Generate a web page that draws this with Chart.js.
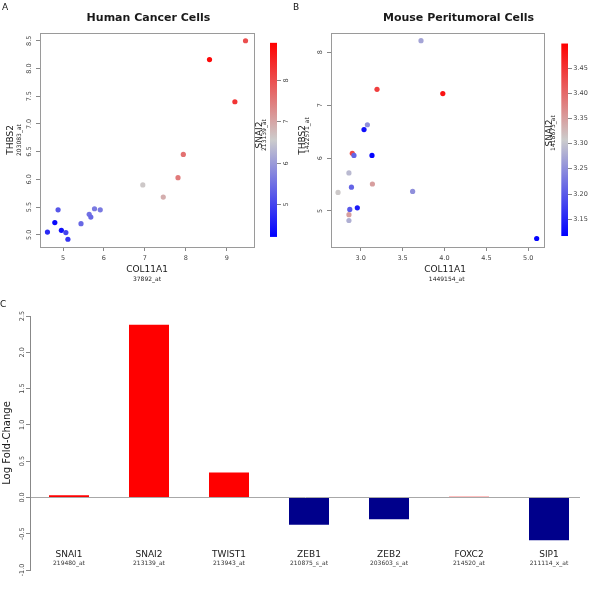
<!DOCTYPE html>
<html>
<head>
<meta charset="utf-8">
<title>COL11A1 / THBS2 / SNAI2</title>
<script src="https://cdn.jsdelivr.net/npm/chart.js@4.4.1/dist/chart.umd.min.js"></script>
<style>
  body { margin: 0; background: #fff; }
  #page { position: relative; width: 600px; height: 593px; overflow: hidden; font-family: "DejaVu Sans", sans-serif; }
  #page canvas { position: absolute; }
  .panel { position: absolute; font-size: 9px; color: #111; }
</style>
</head>
<body>
<div id="page">
  <canvas id="chartA" width="300" height="295" style="left:0;top:0"></canvas>
  <canvas id="chartB" width="310" height="295" style="left:290px;top:0"></canvas>
  <canvas id="chartC" width="600" height="298" style="left:0;top:295px"></canvas>
  <div class="panel" style="left:2px;top:2px">A</div>
  <div class="panel" style="left:293px;top:2px">B</div>
  <div class="panel" style="left:0;top:299px">C</div>
</div>
<script>
// Panel A - human cancer cells: COL11A1 vs THBS2, coloured by SNAI2
const humanCol11a1 = [9.46, 8.58, 9.20, 7.94, 7.81, 6.95, 7.45, 4.62, 4.80, 4.88, 4.96, 5.07, 5.12, 5.44, 5.64, 5.68, 5.77, 5.91];
const humanThbs2   = [8.50, 8.16, 7.40, 6.45, 6.03, 5.90, 5.68, 5.05, 5.22, 5.45, 5.08, 5.04, 4.92, 5.20, 5.37, 5.32, 5.47, 5.45];
const humanSnai2   = [8.0, 8.8, 8.3, 7.6, 7.5, 6.6, 6.9, 4.7, 4.3, 5.2, 4.4, 5.0, 4.8, 5.4, 5.5, 5.4, 5.6, 5.6];
const humanXTicks = [5, 6, 7, 8, 9];
const humanYTicks = [5.0, 5.5, 6.0, 6.5, 7.0, 7.5, 8.0, 8.5];
const humanSnai2Ticks = [5, 6, 7, 8];
const humanSnai2Range = [4.2, 8.9];

// Panel B - mouse peritumoral cells
const mouseCol11a1 = [3.72, 3.195, 3.98, 3.08, 3.04, 2.90, 2.92, 3.135, 2.86, 2.89, 3.14, 2.73, 3.62, 2.96, 2.87, 2.86, 2.86, 5.10];
const mouseThbs2   = [8.22, 7.30, 7.22, 6.63, 6.54, 6.09, 6.05, 6.05, 5.72, 5.45, 5.51, 5.35, 5.37, 5.06, 5.03, 4.93, 4.82, 4.48];
const mouseSnai2   = [3.27, 3.44, 3.48, 3.25, 3.13, 3.43, 3.21, 3.12, 3.29, 3.21, 3.35, 3.31, 3.25, 3.14, 3.20, 3.35, 3.28, 3.12];
const mouseXTicks = [3.0, 3.5, 4.0, 4.5, 5.0];
const mouseYTicks = [5, 6, 7, 8];
const mouseSnai2Ticks = [3.15, 3.20, 3.25, 3.30, 3.35, 3.40, 3.45];
const mouseSnai2Range = [3.116, 3.498];

// Panel C - EMT regulators, log fold-change
const emtGenes  = ['SNAI1', 'SNAI2', 'TWIST1', 'ZEB1', 'ZEB2', 'FOXC2', 'SIP1'];
const emtProbes = ['219480_at', '213139_at', '213943_at', '210875_s_at', '203603_s_at', '214520_at', '211114_x_at'];
const logFoldChange = [0.03, 2.38, 0.344, -0.377, -0.30, 0.01, -0.59];
const foldTicks = [-1.0, -0.5, 0.0, 0.5, 1.0, 1.5, 2.0, 2.5];

const FONT = '"DejaVu Sans", sans-serif';
const RAMP = [[0, 0, 255], [204, 204, 204], [255, 0, 0]];

function rampColor(v, range) {
    let t = (v - range[0]) / (range[1] - range[0]);
    t = Math.max(0, Math.min(1, t));
    const seg = t < 0.5 ? 0 : 1;
    const f = t < 0.5 ? t * 2 : (t - 0.5) * 2;
    const a = RAMP[seg], b = RAMP[seg + 1];
    const c = a.map((x, i) => Math.round(x + (b[i] - x) * f));
    return `rgb(${c[0]},${c[1]},${c[2]})`;
}

function fixedTicks(values) {
    return scale => { scale.ticks = values.map(v => ({ value: v })); };
}

// free text (titles, axis names, probe ids)
const textPlugin = items => ({
    id: 'texts',
    afterDraw(chart) {
        const ctx = chart.ctx;
        items.forEach(t => {
            ctx.save();
            ctx.translate(t.x, t.y);
            if (t.rot) ctx.rotate(t.rot * Math.PI / 180);
            ctx.font = t.font;
            ctx.fillStyle = t.color || '#1a1a1a';
            ctx.textAlign = 'center';
            ctx.textBaseline = 'middle';
            ctx.fillText(t.text, 0, 0);
            ctx.restore();
        });
    }
});

const boxPlugin = {
    id: 'plotBox',
    afterDraw(chart) {
        const a = chart.chartArea, ctx = chart.ctx;
        ctx.save();
        ctx.strokeStyle = '#9a9a9a';
        ctx.lineWidth = 1;
        ctx.strokeRect(Math.round(a.left) + 0.5, Math.round(a.top) + 0.5,
            Math.round(a.right - a.left), Math.round(a.bottom - a.top));
        ctx.restore();
    }
};

// R style y tick labels, turned to read upwards
const yLabelPlugin = (scaleId, x, decimals) => ({
    id: 'yLabels',
    afterDraw(chart) {
        const s = chart.scales[scaleId], ctx = chart.ctx;
        ctx.save();
        ctx.font = '6.5px ' + FONT;
        ctx.fillStyle = '#444';
        ctx.textAlign = 'center';
        ctx.textBaseline = 'middle';
        s.ticks.forEach(t => {
            ctx.save();
            ctx.translate(x, s.getPixelForValue(t.value));
            ctx.rotate(-Math.PI / 2);
            ctx.fillText(t.value.toFixed(decimals), 0, 0);
            ctx.restore();
        });
        ctx.restore();
    }
});

const colorBarPlugin = cfg => ({
    id: 'colorBar',
    afterDraw(chart) {
        const s = chart.scales.cb, ctx = chart.ctx;
        const top = s.getPixelForValue(cfg.range[1]);
        const bottom = s.getPixelForValue(cfg.range[0]);
        const grad = ctx.createLinearGradient(0, bottom, 0, top);
        RAMP.forEach((c, i) => grad.addColorStop(i / (RAMP.length - 1), `rgb(${c.join(',')})`));
        ctx.save();
        ctx.fillStyle = grad;
        ctx.fillRect(cfg.left, top, cfg.width, bottom - top);
        ctx.strokeStyle = '#888';
        ctx.fillStyle = '#444';
        ctx.lineWidth = 1;
        ctx.font = '6.5px ' + FONT;
        ctx.textBaseline = 'middle';
        const right = cfg.left + cfg.width;
        s.ticks.forEach(t => {
            const y = Math.round(s.getPixelForValue(t.value)) + 0.5;
            ctx.beginPath();
            ctx.moveTo(right, y);
            ctx.lineTo(right + 4, y);
            ctx.stroke();
            const label = t.value.toFixed(cfg.decimals);
            if (cfg.rotate) {
                ctx.save();
                ctx.translate(cfg.labelX, y);
                ctx.rotate(-Math.PI / 2);
                ctx.textAlign = 'center';
                ctx.fillText(label, 0, 0);
                ctx.restore();
            } else {
                ctx.textAlign = 'left';
                ctx.fillText(label, cfg.labelX, y);
            }
        });
        ctx.restore();
    }
});

function scatterChart(id, o) {
    return new Chart(document.getElementById(id), {
        type: 'scatter',
        data: {
            datasets: [{
                data: o.x.map((v, i) => ({ x: v, y: o.y[i] })),
                pointBackgroundColor: o.c.map(v => rampColor(v, o.cRange)),
                pointBorderWidth: 0,
                pointRadius: 2.6,
                pointHoverRadius: 2.6
            }]
        },
        options: {
            responsive: false,
            animation: false,
            events: [],
            layout: { padding: o.padding },
            plugins: { legend: { display: false }, tooltip: { enabled: false } },
            scales: {
                x: {
                    type: 'linear', min: o.xMin, max: o.xMax,
                    afterBuildTicks: fixedTicks(o.xTicks),
                    afterFit: s => { s.height = 48; },
                    grid: { drawOnChartArea: false, drawTicks: true, tickLength: 4, tickColor: '#888' },
                    border: { display: false },
                    ticks: {
                        font: { family: FONT, size: 6.5 }, color: '#444', padding: 3,
                        maxRotation: 0, autoSkip: false,
                        callback: v => v.toFixed(o.xDecimals)
                    }
                },
                y: {
                    type: 'linear', min: o.yMin, max: o.yMax,
                    afterBuildTicks: fixedTicks(o.yTicks),
                    afterFit: s => { s.width = o.yWidth; },
                    grid: { drawOnChartArea: false, drawTicks: true, tickLength: 4, tickColor: '#888' },
                    border: { display: false },
                    ticks: { display: false }
                },
                cb: {
                    type: 'linear', position: 'right', display: false,
                    min: o.cbMin, max: o.cbMax,
                    afterBuildTicks: fixedTicks(o.cTicks)
                }
            }
        },
        plugins: [boxPlugin, yLabelPlugin('y', o.yLabelX, o.yDecimals), colorBarPlugin(o.bar), textPlugin(o.texts)]
    });
}

scatterChart('chartA', {
    x: humanCol11a1, y: humanThbs2, c: humanSnai2, cRange: humanSnai2Range,
    xMin: 4.438, xMax: 9.667, yMin: 4.78, yMax: 8.64, cbMin: 3.956, cbMax: 9.138,
    xTicks: humanXTicks, yTicks: humanYTicks, cTicks: humanSnai2Ticks,
    xDecimals: 0, yDecimals: 1, yWidth: 40, yLabelX: 29.5,
    padding: { top: 33, right: 46, left: 0, bottom: 0 },
    bar: { range: humanSnai2Range, left: 270, width: 7, labelX: 286, rotate: true, decimals: 0 },
    texts: [
        { text: 'Human Cancer Cells', x: 148.5, y: 18, font: 'bold 11px ' + FONT },
        { text: 'COL11A1', x: 147, y: 269.5, font: '9px ' + FONT },
        { text: '37892_at', x: 147, y: 279, font: '6px ' + FONT },
        { text: 'THBS2', x: 10.5, y: 140, rot: -90, font: '9px ' + FONT },
        { text: '203083_at', x: 19, y: 140, rot: -90, font: '6px ' + FONT },
        { text: 'SNAI2', x: 260, y: 135, rot: -90, font: '9px ' + FONT },
        { text: '213139_at', x: 264.3, y: 135, rot: -90, font: '6px ' + FONT }
    ]
});

scatterChart('chartB', {
    x: mouseCol11a1, y: mouseThbs2, c: mouseSnai2, cRange: mouseSnai2Range,
    xMin: 2.646, xMax: 5.191, yMin: 4.319, yMax: 8.365, cbMin: 3.0942, cbMax: 3.5189,
    xTicks: mouseXTicks, yTicks: mouseYTicks, cTicks: mouseSnai2Ticks,
    xDecimals: 1, yDecimals: 0, yWidth: 41, yLabelX: 30.7,
    padding: { top: 33, right: 55.7, left: 0, bottom: 0 },
    bar: { range: mouseSnai2Range, left: 271.3, width: 6.7, labelX: 283.3, rotate: false, decimals: 2 },
    texts: [
        { text: 'Mouse Peritumoral Cells', x: 168.5, y: 18, font: 'bold 11px ' + FONT },
        { text: 'COL11A1', x: 155, y: 269.5, font: '9px ' + FONT },
        { text: '1449154_at', x: 156.7, y: 279, font: '6px ' + FONT },
        { text: 'THBS2', x: 12.5, y: 140, rot: -90, font: '9px ' + FONT },
        { text: '1422571_at', x: 17.5, y: 135, rot: -90, font: '6px ' + FONT },
        { text: 'SNAI2', x: 259.2, y: 133, rot: -90, font: '9px ' + FONT },
        { text: '1418673_at', x: 263.3, y: 133, rot: -90, font: '6px ' + FONT }
    ]
});

// gene name + probe id under each bar
const geneLabelPlugin = {
    id: 'geneLabels',
    afterDraw(chart) {
        const x = chart.scales.x, ctx = chart.ctx, bottom = chart.chartArea.bottom;
        ctx.save();
        ctx.textAlign = 'center';
        ctx.textBaseline = 'middle';
        emtGenes.forEach((g, i) => {
            const px = x.getPixelForValue(i);
            ctx.fillStyle = '#1a1a1a';
            ctx.font = '9px ' + FONT;
            ctx.fillText(g, px, bottom - 15.7);
            ctx.fillStyle = '#333';
            ctx.font = '6px ' + FONT;
            ctx.fillText(emtProbes[i], px, bottom - 6.7);
        });
        ctx.restore();
    }
};

new Chart(document.getElementById('chartC'), {
    type: 'bar',
    data: {
        datasets: [{
            data: logFoldChange.map((v, i) => ({ x: i, y: v })),
            backgroundColor: logFoldChange.map(v => v >= 0 ? '#ff0000' : '#00008b'),
            borderWidth: 0,
            barPercentage: 0.5,
            categoryPercentage: 1
        }]
    },
    options: {
        responsive: false,
        animation: false,
        events: [],
        layout: { padding: { top: 21, right: 20, bottom: 23, left: 0 } },
        plugins: { legend: { display: false }, tooltip: { enabled: false } },
        scales: {
            x: { type: 'linear', min: -0.4875, max: 6.3875, offset: false, display: false },
            y: {
                min: -1, max: 2.5,
                afterBuildTicks: fixedTicks(foldTicks),
                afterFit: s => { s.width = 30; },
                ticks: { display: false },
                grid: {
                    drawOnChartArea: true, drawTicks: true, tickLength: 4, tickColor: '#888',
                    color: c => (c.tick && c.tick.value === 0) ? '#a8a8a8' : 'rgba(0,0,0,0)'
                },
                border: { display: true, color: '#888' }
            }
        }
    },
    plugins: [
        yLabelPlugin('y', 22, 1),
        geneLabelPlugin,
        textPlugin([{ text: 'Log Fold-Change', x: 7, y: 148, rot: -90, font: '10px ' + FONT }])
    ]
});
</script>
</body>
</html>
